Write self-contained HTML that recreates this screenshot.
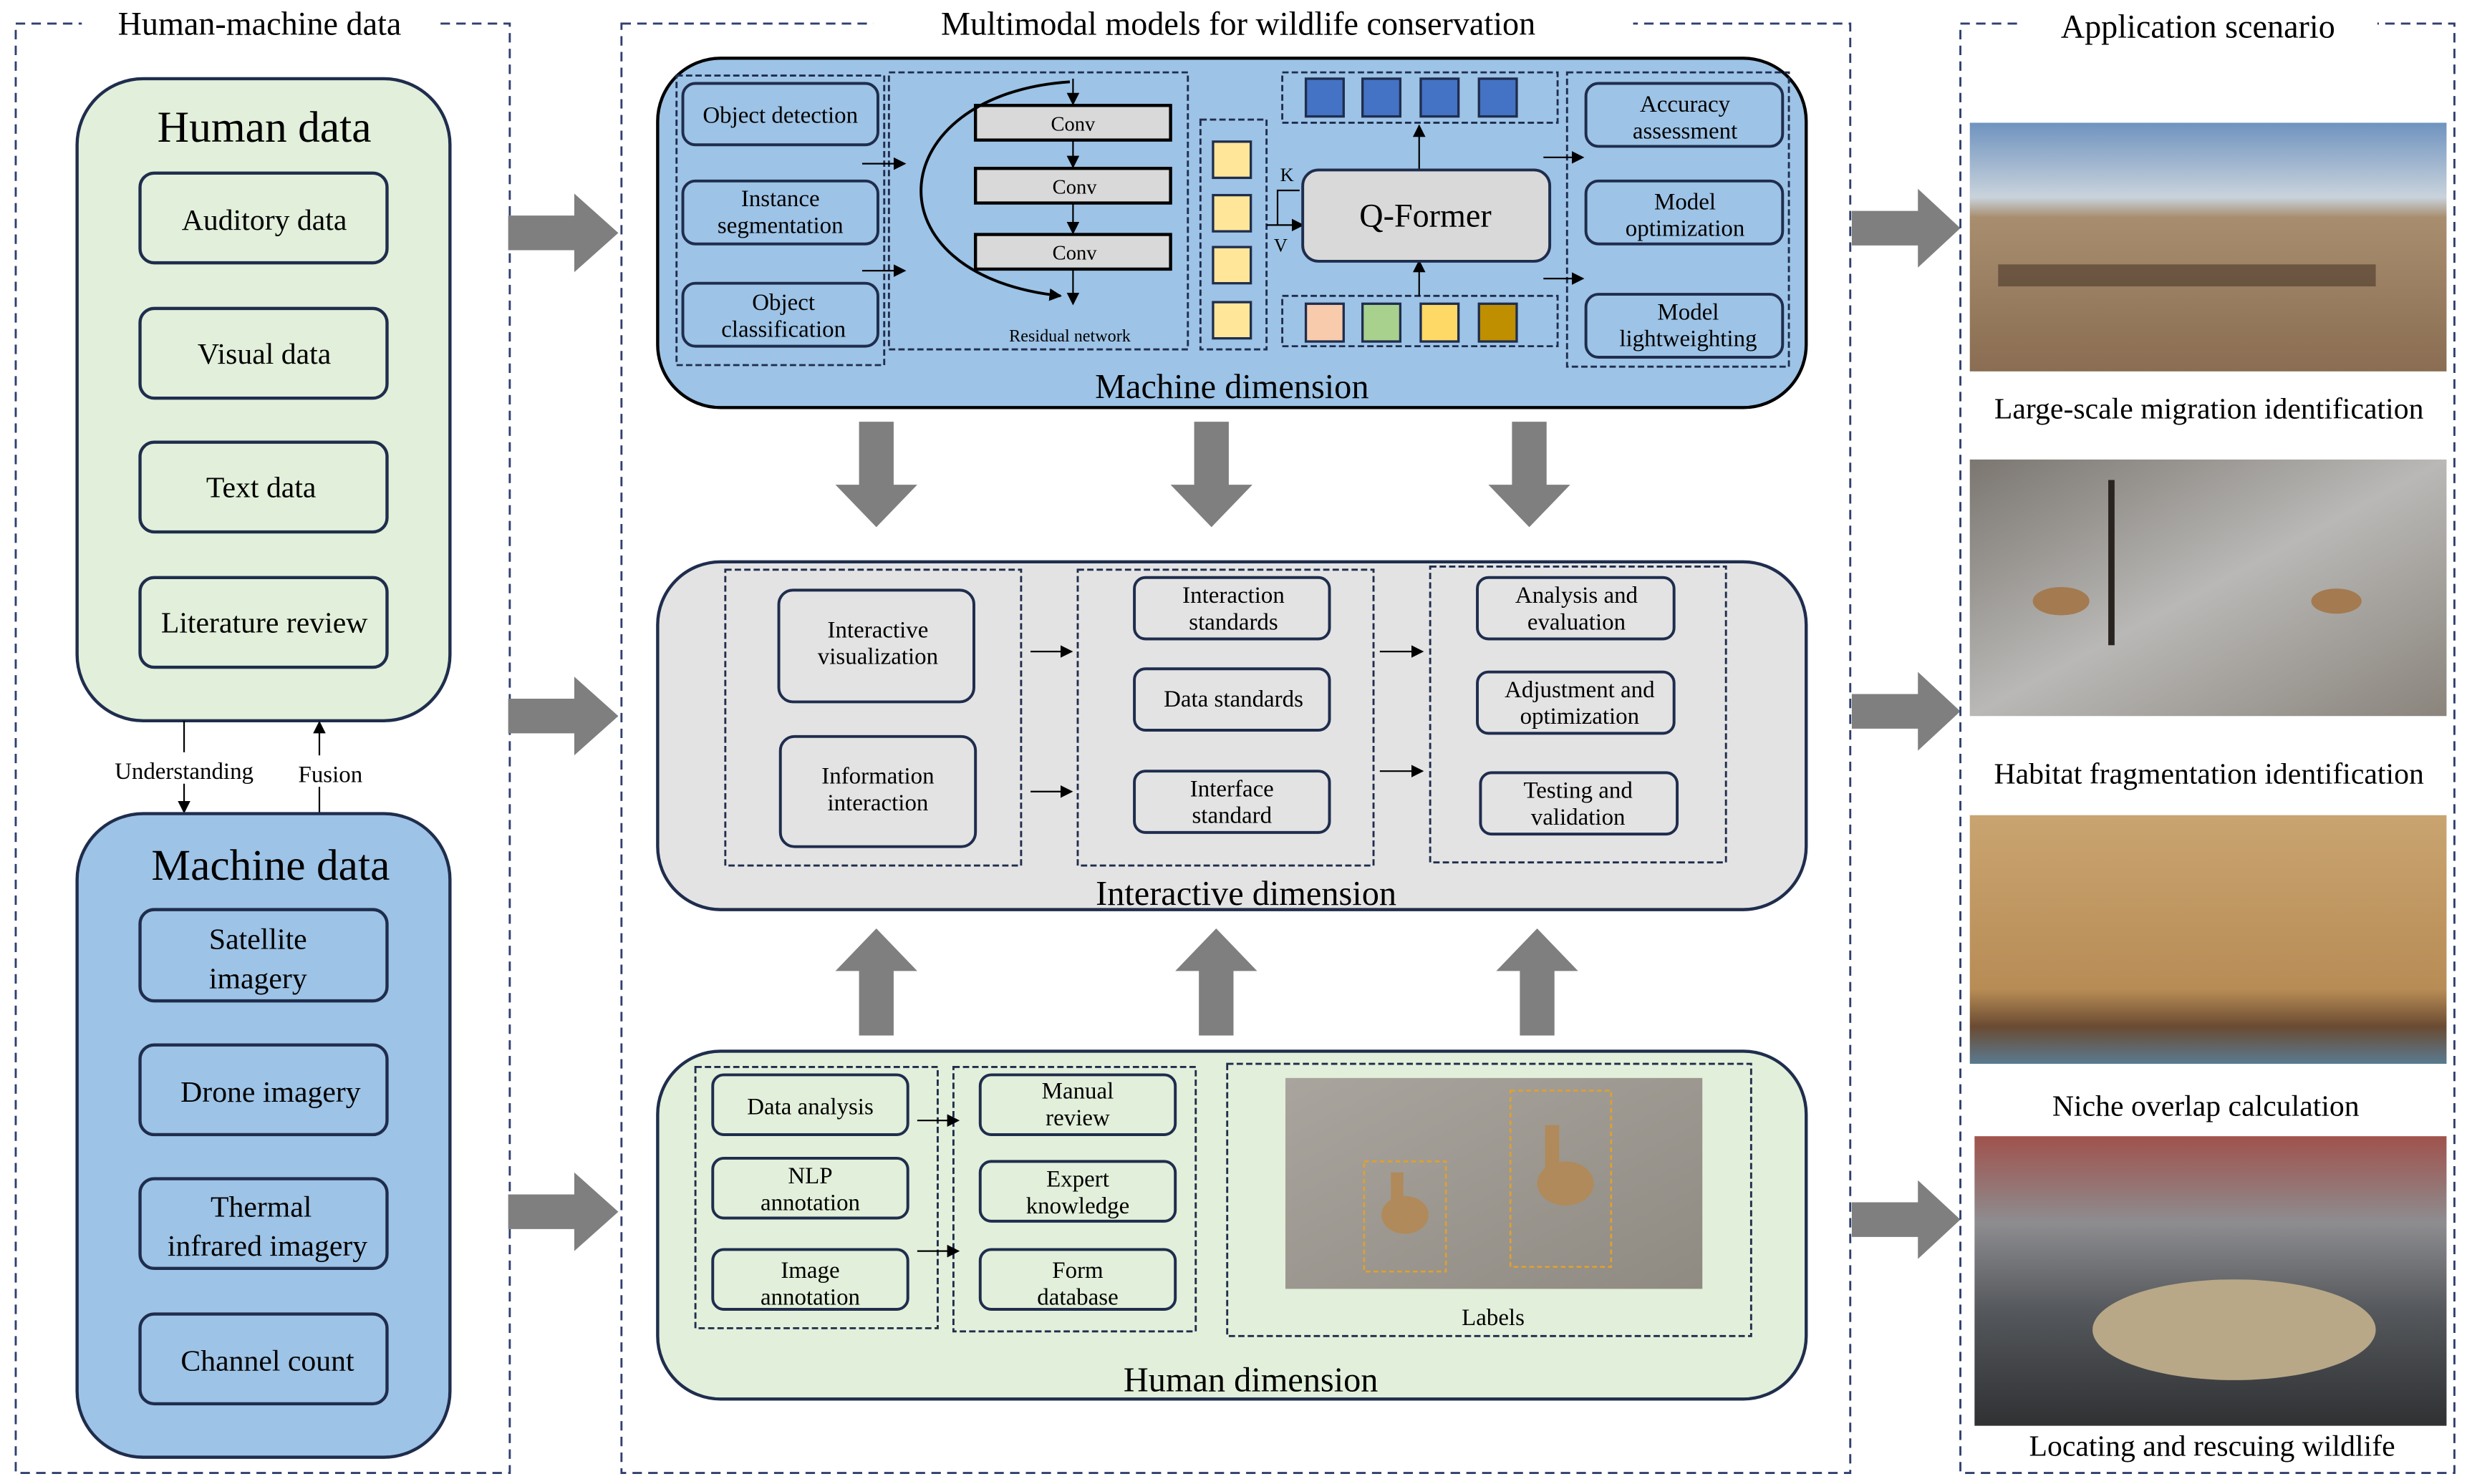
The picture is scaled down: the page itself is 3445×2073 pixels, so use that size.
<!DOCTYPE html>
<html><head><meta charset="utf-8"><style>
html,body{margin:0;padding:0;background:#fff;}
svg{display:block;}
text{font-family:"Liberation Serif",serif;fill:#000;}
</style></head><body>
<svg width="3445" height="2073" viewBox="0 0 1568 943" preserveAspectRatio="none" xmlns="http://www.w3.org/2000/svg">
<defs>
<marker id="ah" markerWidth="8" markerHeight="8" refX="7" refY="4" orient="auto" markerUnits="userSpaceOnUse"><path d="M0,0 L8,4 L0,8 z" fill="#000"/></marker>
<linearGradient id="sky1" x1="0" y1="0" x2="0" y2="1"><stop offset="0" stop-color="#6f93bf"/><stop offset="0.3" stop-color="#c9d3dc"/><stop offset="0.38" stop-color="#a88e6f"/><stop offset="1" stop-color="#8a6d52"/></linearGradient>
<linearGradient id="snow" x1="0" y1="0" x2="1" y2="1"><stop offset="0" stop-color="#7b7670"/><stop offset="0.5" stop-color="#b9b8b6"/><stop offset="1" stop-color="#8a847c"/></linearGradient>
<linearGradient id="grass" x1="0" y1="0" x2="0" y2="1"><stop offset="0" stop-color="#c9a470"/><stop offset="0.7" stop-color="#b88c55"/><stop offset="0.85" stop-color="#6a4b32"/><stop offset="1" stop-color="#5a7a90"/></linearGradient>
<linearGradient id="cage" x1="0" y1="0" x2="0" y2="1"><stop offset="0" stop-color="#a0524c"/><stop offset="0.3" stop-color="#8d8d90"/><stop offset="0.6" stop-color="#55585c"/><stop offset="1" stop-color="#2f3133"/></linearGradient>
<linearGradient id="grav" x1="0" y1="0" x2="1" y2="1"><stop offset="0" stop-color="#a9a59e"/><stop offset="1" stop-color="#8f8a82"/></linearGradient>
</defs>

<!-- Left panel -->
<rect x="10" y="15" width="314" height="921" fill="none" stroke="#2f3f6f" stroke-width="1.3" stroke-dasharray="6,4"/>
<rect x="52" y="3" width="226" height="24" fill="#fff"/>
<text x="165" y="22" font-size="21" text-anchor="middle">Human-machine data</text>

<rect x="49" y="50" width="237" height="408" rx="42" fill="#e2efda" stroke="#1f2d4d" stroke-width="2"/>
<text x="168" y="90" font-size="28" text-anchor="middle">Human data</text>
<g fill="#e2efda" stroke="#1f2d4d" stroke-width="2">
<rect x="89" y="110" width="157" height="57" rx="9"/><rect x="89" y="196" width="157" height="57" rx="9"/>
<rect x="89" y="281" width="157" height="57" rx="9"/><rect x="89" y="367" width="157" height="57" rx="9"/></g>
<g font-size="19" text-anchor="middle"><text x="168" y="146">Auditory data</text><text x="168" y="231">Visual data</text><text x="166" y="316">Text data</text><text x="168" y="402">Literature review</text></g>

<line x1="117" y1="458" x2="117" y2="516" stroke="#000" marker-end="url(#ah)"/>
<line x1="203" y1="517" x2="203" y2="459" stroke="#000" marker-end="url(#ah)"/>
<rect x="62" y="478" width="110" height="20" fill="#fff"/><rect x="182" y="480" width="52" height="20" fill="#fff"/>
<text x="117" y="495" font-size="15" text-anchor="middle">Understanding</text>
<text x="210" y="497" font-size="15" text-anchor="middle">Fusion</text>

<rect x="49" y="517" width="237" height="409" rx="42" fill="#9dc3e6" stroke="#1f2d4d" stroke-width="2"/>
<text x="172" y="559" font-size="28" text-anchor="middle">Machine data</text>
<g fill="#9dc3e6" stroke="#1f2d4d" stroke-width="2">
<rect x="89" y="578" width="157" height="58" rx="9"/><rect x="89" y="664" width="157" height="57" rx="9"/>
<rect x="89" y="749" width="157" height="57" rx="9"/><rect x="89" y="835" width="157" height="57" rx="9"/></g>
<g font-size="19" text-anchor="middle"><text x="164" y="603">Satellite</text><text x="164" y="628">imagery</text>
<text x="172" y="700">Drone imagery</text><text x="166" y="773">Thermal</text><text x="170" y="798">infrared imagery</text>
<text x="170" y="871">Channel count</text></g>

<!-- big horizontal arrows -->
<g fill="#7f7f7f">
<polygon points="323,137 365,137 365,123 393,148 365,173 365,159 323,159"/>
<polygon points="323,444 365,444 365,430 393,455 365,480 365,466 323,466"/>
<polygon points="323,759 365,759 365,745 393,770 365,795 365,781 323,781"/>
<polygon points="1177,134 1219,134 1219,120 1246,145 1219,170 1219,156 1177,156"/>
<polygon points="1177,441 1219,441 1219,427 1246,452 1219,477 1219,463 1177,463"/>
<polygon points="1177,764 1219,764 1219,750 1246,775 1219,800 1219,786 1177,786"/>
</g>

<!-- middle panel -->
<rect x="395" y="15" width="781" height="921" fill="none" stroke="#2f3f6f" stroke-width="1.3" stroke-dasharray="6,4"/>
<rect x="555" y="2" width="483" height="26" fill="#fff"/>
<text x="787" y="22" font-size="21" text-anchor="middle">Multimodal models for wildlife conservation</text>

<!-- Machine dimension -->
<rect x="418" y="37" width="730" height="222" rx="40" fill="#9dc3e6" stroke="#000" stroke-width="2"/>
<g fill="none" stroke="#1f2d4d" stroke-width="1.3" stroke-dasharray="4,2">
<rect x="430" y="48" width="132" height="184"/><rect x="565" y="46" width="190" height="176"/>
<rect x="763" y="76" width="42" height="146"/><rect x="815" y="46" width="175" height="32"/>
<rect x="815" y="188" width="175" height="32"/><rect x="996" y="46" width="141" height="187"/>
</g>
<g fill="#9dc3e6" stroke="#1f2d4d" stroke-width="1.8">
<rect x="434" y="53" width="124" height="39" rx="8"/><rect x="434" y="115" width="124" height="40" rx="8"/><rect x="434" y="180" width="124" height="40" rx="8"/>
<rect x="1008" y="53" width="125" height="40" rx="8"/><rect x="1008" y="115" width="125" height="40" rx="8"/><rect x="1008" y="187" width="125" height="40" rx="8"/>
</g>
<g font-size="15" text-anchor="middle"><text x="496" y="78">Object detection</text>
<text x="496" y="131">Instance</text><text x="496" y="148">segmentation</text>
<text x="498" y="197">Object</text><text x="498" y="214">classification</text>
<text x="1071" y="71">Accuracy</text><text x="1071" y="88">assessment</text>
<text x="1071" y="133">Model</text><text x="1071" y="150">optimization</text>
<text x="1073" y="203">Model</text><text x="1073" y="220">lightweighting</text></g>
<g fill="#d9d9d9" stroke="#000" stroke-width="2">
<rect x="620" y="67" width="124" height="22"/><rect x="620" y="107" width="124" height="22"/><rect x="620" y="149" width="124" height="22"/></g>
<g font-size="13" text-anchor="middle"><text x="682" y="83">Conv</text><text x="683" y="123">Conv</text><text x="683" y="165">Conv</text></g>
<g stroke="#000" stroke-width="1" fill="none">
<line x1="682" y1="50" x2="682" y2="66" marker-end="url(#ah)"/><line x1="682" y1="89" x2="682" y2="106" marker-end="url(#ah)"/>
<line x1="682" y1="129" x2="682" y2="148" marker-end="url(#ah)"/><line x1="682" y1="171" x2="682" y2="193" marker-end="url(#ah)"/>
<path d="M680,52 C560,60 550,175 674,188" stroke-width="1.8" marker-end="url(#ah)"/>
<line x1="548" y1="104" x2="575" y2="104" marker-end="url(#ah)"/><line x1="548" y1="172" x2="575" y2="172" marker-end="url(#ah)"/>
<line x1="805" y1="143" x2="828" y2="143" marker-end="url(#ah)"/>
<polyline points="812,143 812,121 826,121"/>
<line x1="902" y1="108" x2="902" y2="80" marker-end="url(#ah)"/><line x1="902" y1="188" x2="902" y2="166" marker-end="url(#ah)"/>
<line x1="981" y1="100" x2="1006" y2="100" marker-end="url(#ah)"/><line x1="981" y1="177" x2="1006" y2="177" marker-end="url(#ah)"/>
</g>
<text x="680" y="217" font-size="11" text-anchor="middle">Residual network</text>
<text x="818" y="115" font-size="12" text-anchor="middle">K</text><text x="814" y="160" font-size="12" text-anchor="middle">V</text>
<g fill="#ffe699" stroke="#1f2d4d" stroke-width="1.5">
<rect x="771" y="90" width="24" height="23"/><rect x="771" y="124" width="24" height="23"/><rect x="771" y="157" width="24" height="23"/><rect x="771" y="192" width="24" height="23"/></g>
<rect x="828" y="108" width="157" height="58" rx="10" fill="#d9d9d9" stroke="#1f2d4d" stroke-width="1.8"/>
<text x="906" y="144" font-size="21" text-anchor="middle">Q-Former</text>
<g stroke="#1f2d4d" stroke-width="1.5">
<rect x="830" y="50" width="24" height="24" fill="#4472c4"/><rect x="866" y="50" width="24" height="24" fill="#4472c4"/><rect x="903" y="50" width="24" height="24" fill="#4472c4"/><rect x="940" y="50" width="24" height="24" fill="#4472c4"/>
<rect x="830" y="193" width="24" height="24" fill="#f8cbad"/><rect x="866" y="193" width="24" height="24" fill="#a9d18e"/><rect x="903" y="193" width="24" height="24" fill="#ffd966"/><rect x="940" y="193" width="24" height="24" fill="#bf8f00"/></g>
<text x="783" y="253" font-size="22" text-anchor="middle">Machine dimension</text>

<!-- vertical gray arrows -->
<g fill="#7f7f7f">
<polygon points="546,268 568,268 568,308 583,308 557,335 531,308 546,308"/>
<polygon points="759,268 781,268 781,308 796,308 770,335 744,308 759,308"/>
<polygon points="961,268 983,268 983,308 998,308 972,335 946,308 961,308"/>
<polygon points="546,658 568,658 568,617 583,617 557,590 531,617 546,617"/>
<polygon points="762,658 784,658 784,617 799,617 773,590 747,617 762,617"/>
<polygon points="966,658 988,658 988,617 1003,617 977,590 951,617 966,617"/>
</g>

<!-- Interactive -->
<rect x="418" y="357" width="730" height="221" rx="40" fill="#e3e3e3" stroke="#1f2d4d" stroke-width="2"/>
<g fill="none" stroke="#1f2d4d" stroke-width="1.3" stroke-dasharray="4,2">
<rect x="461" y="362" width="188" height="188"/><rect x="685" y="362" width="188" height="188"/><rect x="909" y="360" width="188" height="188"/></g>
<g fill="#e3e3e3" stroke="#1f2d4d" stroke-width="1.8">
<rect x="495" y="375" width="124" height="71" rx="9"/><rect x="496" y="468" width="124" height="70" rx="9"/>
<rect x="721" y="367" width="124" height="39" rx="7"/><rect x="721" y="425" width="124" height="39" rx="7"/><rect x="721" y="490" width="124" height="39" rx="7"/>
<rect x="939" y="367" width="125" height="39" rx="7"/><rect x="939" y="427" width="125" height="39" rx="7"/><rect x="941" y="491" width="125" height="39" rx="7"/></g>
<g font-size="15" text-anchor="middle">
<text x="558" y="405">Interactive</text><text x="558" y="422">visualization</text>
<text x="558" y="498">Information</text><text x="558" y="515">interaction</text>
<text x="784" y="383">Interaction</text><text x="784" y="400">standards</text>
<text x="784" y="449">Data standards</text>
<text x="783" y="506">Interface</text><text x="783" y="523">standard</text>
<text x="1002" y="383">Analysis and</text><text x="1002" y="400">evaluation</text>
<text x="1004" y="443">Adjustment and</text><text x="1004" y="460">optimization</text>
<text x="1003" y="507">Testing and</text><text x="1003" y="524">validation</text></g>
<g stroke="#000" stroke-width="1"><line x1="655" y1="414" x2="681" y2="414" marker-end="url(#ah)"/><line x1="655" y1="503" x2="681" y2="503" marker-end="url(#ah)"/>
<line x1="877" y1="414" x2="904" y2="414" marker-end="url(#ah)"/><line x1="877" y1="490" x2="904" y2="490" marker-end="url(#ah)"/></g>
<text x="792" y="575" font-size="22" text-anchor="middle">Interactive dimension</text>

<!-- Human dimension -->
<rect x="418" y="668" width="730" height="221" rx="40" fill="#e2efda" stroke="#1f2d4d" stroke-width="2"/>
<g fill="none" stroke="#1f2d4d" stroke-width="1.3" stroke-dasharray="4,2">
<rect x="442" y="678" width="154" height="166"/><rect x="606" y="678" width="154" height="168"/><rect x="780" y="676" width="333" height="173"/></g>
<g fill="#e2efda" stroke="#1f2d4d" stroke-width="1.8">
<rect x="453" y="683" width="124" height="38" rx="7"/><rect x="453" y="736" width="124" height="38" rx="7"/><rect x="453" y="794" width="124" height="38" rx="7"/>
<rect x="623" y="683" width="124" height="38" rx="7"/><rect x="623" y="738" width="124" height="38" rx="7"/><rect x="623" y="794" width="124" height="38" rx="7"/></g>
<g font-size="15" text-anchor="middle">
<text x="515" y="708">Data analysis</text><text x="515" y="752">NLP</text><text x="515" y="769">annotation</text>
<text x="515" y="812">Image</text><text x="515" y="829">annotation</text>
<text x="685" y="698">Manual</text><text x="685" y="715">review</text>
<text x="685" y="754">Expert</text><text x="685" y="771">knowledge</text>
<text x="685" y="812">Form</text><text x="685" y="829">database</text></g>
<g stroke="#000" stroke-width="1"><line x1="583" y1="712" x2="609" y2="712" marker-end="url(#ah)"/><line x1="583" y1="795" x2="609" y2="795" marker-end="url(#ah)"/></g>
<rect x="817" y="685" width="265" height="134" fill="url(#grav)"/>
<g fill="#b08a5a"><ellipse cx="893" cy="772" rx="15" ry="12"/><rect x="884" y="745" width="8" height="25"/><ellipse cx="995" cy="752" rx="18" ry="14"/><rect x="982" y="715" width="9" height="35"/></g>
<g fill="none" stroke="#e0a030" stroke-width="1.2" stroke-dasharray="3,2"><rect x="867" y="738" width="52" height="70"/><rect x="960" y="693" width="64" height="112"/></g>
<text x="949" y="842" font-size="15" text-anchor="middle">Labels</text>
<text x="795" y="884" font-size="22" text-anchor="middle">Human dimension</text>

<!-- Right panel -->
<rect x="1246" y="15" width="314" height="921" fill="none" stroke="#2f3f6f" stroke-width="1.3" stroke-dasharray="6,4"/>
<rect x="1283" y="3" width="228" height="26" fill="#fff"/>
<text x="1397" y="24" font-size="21" text-anchor="middle">Application scenario</text>
<rect x="1252" y="78" width="303" height="158" fill="url(#sky1)"/>
<g fill="#3a2a20"><rect x="1270" y="168" width="240" height="14" opacity="0.5"/></g>
<text x="1404" y="266" font-size="19" text-anchor="middle">Large-scale migration identification</text>
<rect x="1252" y="292" width="303" height="163" fill="url(#snow)"/>
<rect x="1340" y="305" width="4" height="105" fill="#2a2420"/>
<ellipse cx="1310" cy="382" rx="18" ry="9" fill="#a47a50"/><ellipse cx="1485" cy="382" rx="16" ry="8" fill="#a47a50"/>
<text x="1404" y="498" font-size="19" text-anchor="middle">Habitat fragmentation identification</text>
<rect x="1252" y="518" width="303" height="158" fill="url(#grass)"/>
<text x="1402" y="709" font-size="19" text-anchor="middle">Niche overlap calculation</text>
<rect x="1255" y="722" width="300" height="184" fill="url(#cage)"/>
<ellipse cx="1420" cy="845" rx="90" ry="32" fill="#b8a888"/>
<text x="1406" y="925" font-size="19" text-anchor="middle">Locating and rescuing wildlife</text>
</svg>
</body></html>
